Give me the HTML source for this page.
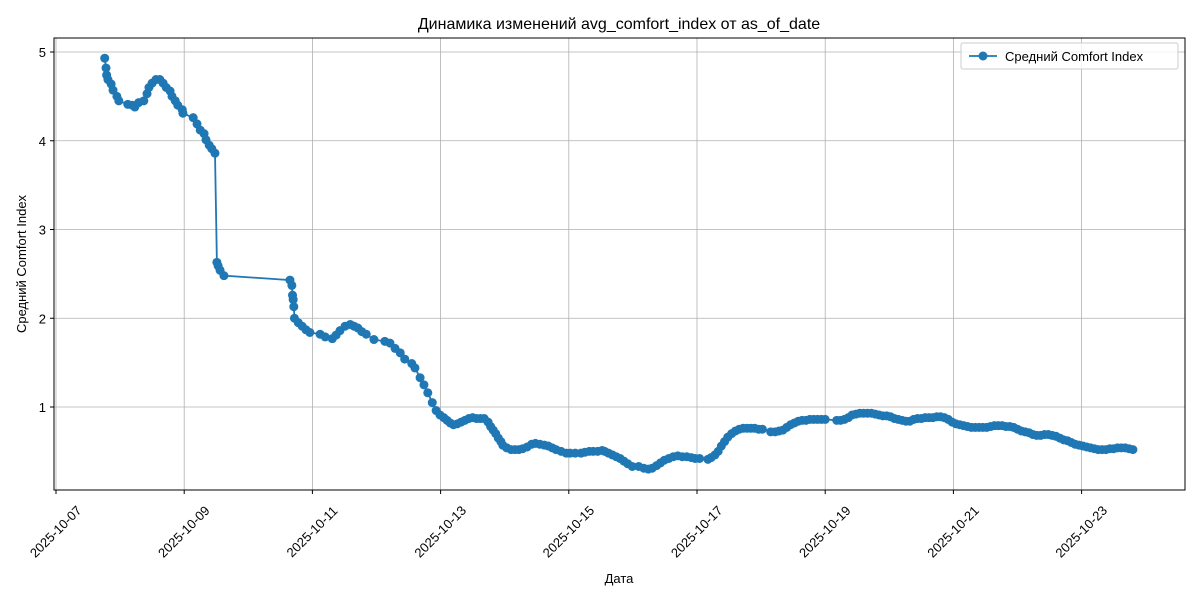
<!DOCTYPE html>
<html><head><meta charset="utf-8">
<style>
body{margin:0;background:#fff;}
svg{display:block;font-family:"Liberation Sans","DejaVu Sans",sans-serif;}
</style></head>
<body>
<svg id="chart" width="1200" height="600" xmlns="http://www.w3.org/2000/svg">
<text x="619" y="29" font-size="16" text-anchor="middle">Динамика изменений avg_comfort_index от as_of_date</text>
<text x="619" y="583" font-size="13" text-anchor="middle">Дата</text>
<text transform="translate(26,264) rotate(-90)" font-size="13" text-anchor="middle">Средний Comfort Index</text>
<g id="grid"></g>
<g id="series"></g>
<rect x="54" y="38" width="1131" height="452" fill="none" stroke="#000" stroke-width="1"/>
<g id="ticks"></g>
<g>
<rect x="961" y="43" width="217" height="26" rx="2" fill="#fff" fill-opacity="0.8" stroke="#ccc"/>
<line x1="969" y1="56" x2="997" y2="56" stroke="#1f77b4" stroke-width="1.8"/>
<circle cx="983" cy="56" r="4.5" fill="#1f77b4"/>
<text x="1005" y="61" font-size="13">Средний Comfort Index</text>
</g>
</svg>
<script>
const xTickLabels=['2025-10-07','2025-10-09','2025-10-11','2025-10-13','2025-10-15','2025-10-17','2025-10-19','2025-10-21','2025-10-23'];
const xTickDays=[0,2,4,6,8,10,12,14,16];
const yTicks=[1,2,3,4,5];
const days=[0.76,0.78,0.79,0.81,0.86,0.89,0.95,0.98,1.12,1.19,1.23,1.29,1.37,1.42,1.45,1.50,1.56,1.62,1.67,1.72,1.78,1.81,1.86,1.90,1.97,1.98,2.14,2.20,2.25,2.31,2.34,2.39,2.43,2.48,2.51,2.53,2.56,2.62,
3.65,3.68,3.69,3.70,3.71,3.72,3.78,3.84,3.90,3.96,4.12,4.20,4.31,4.37,4.43,4.51,4.59,4.65,4.71,4.77,4.84,4.96,5.13,5.21,5.29,5.37,5.44,5.55,5.60,5.68,5.74,5.80,5.87,5.93,
5.99,6.05,6.10,6.15,6.20,6.26,6.32,6.38,6.44,6.50,6.56,6.62,6.68,6.74,6.78,6.82,6.86,6.90,6.94,6.97,7.03,7.10,7.16,7.22,7.28,7.35,7.42,7.48,7.55,7.62,7.68,7.74,7.80,7.88,7.96,8.02,8.10,8.19,8.25,8.32,8.38,8.45,8.52,8.56,8.62,8.68,8.74,8.80,8.86,8.92,8.99,9.09,9.17,9.24,9.30,9.37,9.43,9.49,9.56,9.63,9.70,9.77,9.84,9.91,9.97,10.04,10.17,10.22,10.28,10.33,10.38,10.43,10.48,10.54,10.60,10.66,10.72,10.78,10.84,10.90,10.96,11.02,11.15,11.22,11.28,11.34,11.40,11.46,11.52,11.58,11.64,11.70,11.76,11.82,11.88,11.94,12.00,12.18,12.24,12.30,12.36,12.42,12.48,12.54,12.60,12.66,12.72,12.78,12.84,12.90,12.96,13.02,13.08,13.14,13.20,13.26,13.32,13.38,13.44,13.50,13.56,13.62,13.68,13.74,13.80,13.86,13.92,13.98,14.04,14.10,14.16,14.22,14.28,14.34,14.40,14.46,14.52,14.58,14.64,14.70,14.76,14.82,14.88,14.94,15.00,15.06,15.12,15.18,15.24,15.30,15.36,15.42,15.48,15.54,15.60,15.66,15.72,15.78,15.84,15.90,15.96,16.02,16.08,16.14,16.20,16.26,16.32,16.38,16.44,16.50,16.56,16.62,16.68,16.74,16.80];
const values=[4.93,4.82,4.74,4.69,4.64,4.57,4.50,4.45,4.41,4.40,4.38,4.43,4.45,4.53,4.60,4.65,4.69,4.69,4.65,4.60,4.56,4.50,4.45,4.40,4.35,4.31,4.26,4.19,4.12,4.08,4.01,3.95,3.91,3.86,2.63,2.59,2.54,2.48,
2.43,2.37,2.26,2.21,2.13,2.00,1.95,1.91,1.87,1.84,1.82,1.79,1.77,1.81,1.86,1.91,1.93,1.91,1.89,1.85,1.82,1.76,1.74,1.72,1.66,1.61,1.54,1.49,1.44,1.33,1.25,1.16,1.05,0.96,
0.91,0.88,0.85,0.82,0.80,0.81,0.83,0.85,0.87,0.88,0.87,0.87,0.87,0.83,0.78,0.74,0.70,0.65,0.61,0.57,0.54,0.52,0.52,0.52,0.53,0.55,0.58,0.59,0.58,0.57,0.56,0.54,0.52,0.50,0.48,0.48,0.48,0.48,0.49,0.50,0.50,0.50,0.51,0.50,0.48,0.46,0.44,0.42,0.39,0.36,0.33,0.33,0.31,0.30,0.31,0.34,0.37,0.40,0.42,0.44,0.45,0.44,0.44,0.43,0.42,0.42,0.41,0.43,0.46,0.50,0.56,0.61,0.66,0.70,0.73,0.75,0.76,0.76,0.76,0.76,0.75,0.75,0.72,0.72,0.73,0.74,0.77,0.80,0.82,0.84,0.85,0.85,0.86,0.86,0.86,0.86,0.86,0.85,0.85,0.86,0.88,0.91,0.92,0.93,0.93,0.93,0.93,0.92,0.91,0.90,0.90,0.89,0.87,0.86,0.85,0.84,0.84,0.86,0.87,0.87,0.88,0.88,0.88,0.89,0.89,0.88,0.86,0.83,0.81,0.80,0.79,0.78,0.77,0.77,0.77,0.77,0.77,0.78,0.79,0.79,0.79,0.78,0.78,0.77,0.75,0.73,0.72,0.71,0.69,0.68,0.68,0.69,0.69,0.68,0.67,0.65,0.63,0.62,0.60,0.58,0.57,0.56,0.55,0.54,0.53,0.52,0.52,0.52,0.53,0.53,0.54,0.54,0.54,0.53,0.52];
const NS='http://www.w3.org/2000/svg';
const X=d=>56+d*64.1;
const Y=v=>495.75-v*88.75;
function mk(tag,attrs,parent){const e=document.createElementNS(NS,tag);for(const k in attrs)e.setAttribute(k,attrs[k]);parent.appendChild(e);return e;}
const grid=document.getElementById('grid'),ticks=document.getElementById('ticks'),series=document.getElementById('series');
xTickDays.forEach((d,i)=>{
  const g=mk('line',{x1:X(d),x2:X(d),y1:38,y2:490,stroke:'#b0b0b0','stroke-width':0.8},grid);
  
  
  const t=mk('line',{x1:X(d),x2:X(d),y1:490,y2:494,stroke:'#000'},ticks);
  
  
  const cx=X(d), cy=532;
  const l=mk('text',{x:cx,y:cy+4,'font-size':13,'text-anchor':'middle',transform:`rotate(-45 ${cx} ${cy})`},ticks);
  l.textContent=xTickLabels[i];
  
  
});
yTicks.forEach(v=>{
  const g=mk('line',{x1:54,x2:1185,y1:Y(v),y2:Y(v),stroke:'#b0b0b0','stroke-width':0.8},grid);
  
  
  const t=mk('line',{x1:50,x2:54,y1:Y(v),y2:Y(v),stroke:'#000'},ticks);
  
  
  const l=mk('text',{x:46,y:Y(v)+5,'font-size':13,'text-anchor':'end'},ticks);
  l.textContent=String(v);
  
  
});
const pts=days.map((d,i)=>X(d).toFixed(1)+','+Y(values[i]).toFixed(1)).join(' ');
const pl=mk('polyline',{points:pts,fill:'none',stroke:'#1f77b4','stroke-width':1.8},series);


days.forEach((d,i)=>{
  const c=mk('circle',{cx:X(d),cy:Y(values[i]),r:4.5,fill:'#1f77b4'},series);
  
  
});
</script>
</body></html>
